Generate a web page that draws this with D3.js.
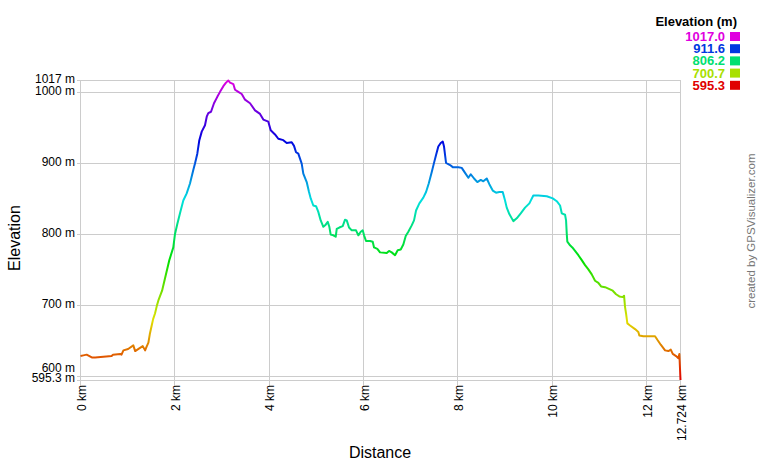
<!DOCTYPE html>
<html>
<head>
<meta charset="utf-8">
<script src="https://cdn.jsdelivr.net/npm/d3@7"></script>
<style>
  html, body { margin: 0; padding: 0; background: #fff; }
  svg { display: block; font-family: Arial, "Liberation Sans", sans-serif; }
</style>
</head>
<body>
<svg id="chart" width="760" height="460"></svg>
<script>
// ---- data ----
const distKm = [
  0, 0.06, 0.13, 0.24, 0.31, 0.66, 0.69, 0.84, 0.87, 0.91, 1.01, 1.12, 1.16, 1.23, 1.32, 1.37, 1.40, 1.44, 1.47, 1.51,
  1.54, 1.58, 1.62, 1.65, 1.73, 1.79, 1.883, 1.968, 2.004, 2.053, 2.110, 2.180, 2.252, 2.322, 2.392, 2.428, 2.477, 2.520, 2.571, 2.640,
  2.677, 2.710, 2.768, 2.831, 2.901, 2.959, 3.029, 3.086, 3.135, 3.171, 3.207, 3.241, 3.277, 3.347, 3.419, 3.489, 3.595, 3.701, 3.807, 3.877,
  3.983, 4.034, 4.125, 4.195, 4.301, 4.373, 4.479, 4.528, 4.571, 4.619, 4.691, 4.725, 4.797, 4.846, 4.882, 4.937, 4.995, 5.043, 5.094, 5.150,
  5.200, 5.243, 5.277, 5.306, 5.362, 5.412, 5.434, 5.489, 5.561, 5.610, 5.646, 5.695, 5.752, 5.843, 5.892, 5.943, 5.985, 6.013, 6.055, 6.140,
  6.197, 6.225, 6.295, 6.352, 6.494, 6.543, 6.600, 6.670, 6.727, 6.791, 6.846, 6.897, 6.952, 7.024, 7.073, 7.116, 7.186, 7.270, 7.328, 7.385,
  7.449, 7.497, 7.540, 7.588, 7.639, 7.682, 7.709, 7.752, 7.837, 7.894, 8.013, 8.085, 8.155, 8.225, 8.276, 8.346, 8.416, 8.488, 8.543, 8.615,
  8.670, 8.742, 8.812, 8.882, 8.954, 9.003, 9.039, 9.094, 9.179, 9.251, 9.336, 9.427, 9.519, 9.603, 9.709, 9.888, 10.015, 10.100, 10.170, 10.206,
  10.276, 10.297, 10.312, 10.324, 10.382, 10.430, 10.488, 10.558, 10.630, 10.700, 10.770, 10.842, 10.912, 10.982, 11.039, 11.124, 11.194, 11.287, 11.357, 11.427,
  11.499, 11.527, 11.548, 11.569, 11.597, 11.654, 11.760, 11.830, 11.851, 11.936, 12.184, 12.233, 12.305, 12.397, 12.467, 12.518, 12.560, 12.630, 12.679, 12.700,
  12.724
];
const elevM = [
  629, 630, 631, 627, 627, 629, 631, 632, 631, 637, 639, 644, 636, 639, 643, 637, 642, 648, 660, 672,
  681, 689, 700, 707, 721, 738, 764, 782, 801, 815, 830, 848, 858, 872, 891, 900, 914, 933, 945, 954,
  966, 971, 973, 985, 994, 1001, 1009, 1014, 1017.0, 1014, 1013, 1012, 1004, 1001, 998, 990, 985, 975, 970, 962,
  959, 947, 941, 935, 933, 929, 930, 925, 916, 914, 900, 886, 874, 860, 851, 841, 840, 832, 820, 811,
  814, 818, 811, 800, 799, 797, 808, 810, 812, 821, 820, 810, 806, 806, 799, 804, 806, 799, 791, 791,
  790, 782, 780, 775, 774, 777, 775, 771, 778, 779, 786, 798, 804, 813, 820, 834, 844, 852, 860, 872,
  888, 901, 912, 924, 929, 931, 924, 901, 898, 895, 895, 894, 887, 880, 885, 879, 874, 877, 875, 879,
  871, 862, 859, 860, 860, 848, 838, 829, 819, 823, 830, 838, 844, 855, 855, 854, 851, 847, 841, 830,
  828, 820, 801, 790, 785, 782, 777, 771, 764, 757, 751, 744, 735, 732, 727, 726, 724, 721, 716, 713,
  712, 714, 698, 689, 675, 672, 667, 663, 658, 657, 657, 652, 645, 637, 636, 638, 632, 629, 626, 632,
  595.3
];
const xTicks = [0, 2, 4, 6, 8, 10, 12, 12.724];
const xTickLabels = ["0 km", "2 km", "4 km", "6 km", "8 km", "10 km", "12 km", "12.724 km"];
const yTicks = [595.3, 600, 700, 800, 900, 1000, 1017];
const yTickLabels = ["595.3 m", "600 m", "700 m", "800 m", "900 m", "1000 m", "1017 m"];
const legendValues = [1017.0, 911.6, 806.2, 700.7, 595.3];
const legendLabels = ["1017.0", "911.6", "806.2", "700.7", "595.3"];
const legendTitle = "Elevation (m)";
const xTitle = "Distance";
const yTitle = "Elevation";
const creditText = "created by GPSVisualizer.com";

// ---- layout ----
const svg = d3.select("#chart");
const minE = 595.3, maxE = 1017;
const x = d3.scaleLinear().domain([0, 12.724]).range([80.5, 680.5]);
const y = d3.scaleLinear().domain([minE, maxE]).range([380, 80.5]);
const color = v => d3.hsl(300 * (v - minE) / (maxE - minE), 1, 0.44).formatHex();
const snap = v => Math.floor(v) + 0.5;

// grid lines
const grid = svg.append("g").attr("stroke", "#cccccc").attr("stroke-width", 1).attr("shape-rendering", "crispEdges");
grid.selectAll("line.v").data(xTicks).join("line")
  .attr("x1", d => snap(x(d))).attr("x2", d => snap(x(d)))
  .attr("y1", snap(y(maxE))).attr("y2", snap(y(minE)) + 5);
grid.selectAll("line.h").data(yTicks).join("line")
  .attr("x1", snap(x(0)) - 4).attr("x2", snap(x(12.724)))
  .attr("y1", d => snap(y(d))).attr("y2", d => snap(y(d)));

// y tick labels with simple collision avoidance
const yLab = yTicks.map((v, i) => ({ v, t: yTickLabels[i], p: y(v) - 1.8 }));
const minLab = yLab[0], maxLab = yLab[yLab.length - 1];
yLab.forEach(l => {
  if (l !== minLab && l.p > minLab.p - 10) l.p = minLab.p - 10;
  if (l !== maxLab && l.p < maxLab.p + 10) l.p = maxLab.p + 10;
});
svg.append("g").selectAll("text").data(yLab).join("text")
  .attr("x", 75).attr("y", d => d.p).attr("dy", "0.35em")
  .attr("text-anchor", "end").attr("font-size", 12).attr("fill", "#000")
  .text(d => d.t);

// x tick labels (rotated)
svg.append("g").selectAll("text").data(xTicks).join("text")
  .attr("transform", d => `translate(${x(d) + 1},385) rotate(-90)`)
  .attr("dy", "0.35em").attr("text-anchor", "end")
  .attr("font-size", 12).attr("fill", "#000")
  .text((d, i) => xTickLabels[i]);

// axis titles
svg.append("text").attr("x", 380).attr("y", 458).attr("text-anchor", "middle")
  .attr("font-size", 16).attr("fill", "#000").text(xTitle);
svg.append("text").attr("transform", "translate(20,238) rotate(-90)")
  .attr("text-anchor", "middle").attr("font-size", 16).attr("fill", "#000").text(yTitle);

// gradient by elevation
const defs = svg.append("defs");
const grad = defs.append("linearGradient").attr("id", "elevGrad")
  .attr("gradientUnits", "userSpaceOnUse")
  .attr("x1", 0).attr("x2", 0).attr("y1", y(minE)).attr("y2", y(maxE));
d3.range(0, 31).forEach(i => {
  const v = minE + (maxE - minE) * i / 30;
  grad.append("stop").attr("offset", i / 30).attr("stop-color", color(v));
});

// profile line
const pts = distKm.map((d, i) => [d, elevM[i]]);
svg.append("path").datum(pts)
  .attr("fill", "none").attr("stroke", "url(#elevGrad)").attr("stroke-width", 2)
  .attr("stroke-linejoin", "round")
  .attr("d", d3.line().x(p => x(p[0])).y(p => y(p[1])));

// legend
const lg = svg.append("g");
lg.append("text").attr("x", 737).attr("y", 21.5).attr("dy", "0.35em").attr("text-anchor", "end")
  .attr("font-size", 13).attr("font-weight", "bold").attr("fill", "#000").text(legendTitle);
const rows = lg.selectAll("g.row").data(legendValues).join("g")
  .attr("transform", (d, i) => `translate(0,${36.5 + i * 12.2})`);
rows.append("text").attr("x", 725).attr("dy", "0.35em").attr("text-anchor", "end")
  .attr("font-size", 13).attr("font-weight", "bold").attr("fill", d => color(d))
  .text((d, i) => legendLabels[i]);
rows.append("rect").attr("x", 730).attr("y", -4.5).attr("width", 10).attr("height", 9)
  .attr("fill", d => color(d));

// credit
svg.append("text").attr("transform", "translate(755,231) rotate(-90)")
  .attr("text-anchor", "middle").attr("font-size", 11.5).attr("fill", "#777").text(creditText);
</script>
</body>
</html>
